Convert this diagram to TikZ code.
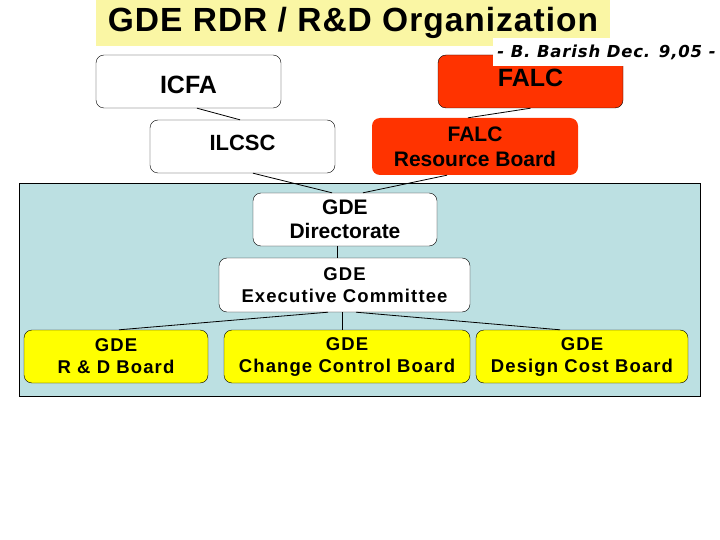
\documentclass[tikz,border=0pt]{standalone}
\usepackage{fontspec}
\setmainfont{Liberation Sans}
\newfontfamily\signfont{DejaVu Sans}

\definecolor{titleyellow}{RGB}{250,246,164}
\definecolor{falcred}{RGB}{255,51,0}
\definecolor{gdeblue}{RGB}{188,224,226}
\definecolor{boardyellow}{RGB}{255,255,0}

\tikzset{
  orgbox/.style={draw=black, fill=white, rounded corners=8pt, align=center,
    inner sep=0pt, minimum height=53pt},
  redbox/.style={orgbox, fill=falcred},
  boardbox/.style={orgbox, fill=boardyellow},
  lowfont/.style={font=\fontsize{18.5}{22}\selectfont\bfseries\addfontfeature{LetterSpace=6}},
  link/.style={draw=black, line width=0.8pt}
}

\begin{document}
\begin{tikzpicture}[x=1pt, y=-1pt]
        \useasboundingbox (0,0) rectangle (720,540);

        % GDE area
        \filldraw[fill=gdeblue, draw=black, line width=0.8pt] (19,183) rectangle (700,396);

        % title
        \node[fill=titleyellow, minimum width=514pt, minimum height=46pt, inner sep=0pt,
          font=\fontsize{33.5}{36}\selectfont\bfseries\addfontfeature{LetterSpace=3}]
          (title) at (353,23) {GDE RDR / R\&D Organization};

        % top level
        \node[orgbox, minimum width=185pt, text height=24pt, font=\fontsize{25}{28}\selectfont\bfseries]
          (icfa) at (188.5,81.5) {ICFA};
        \node[redbox, minimum width=185pt, text depth=7pt, font=\fontsize{25}{28}\selectfont\bfseries]
          (falc) at (530.5,81.5) {FALC};
        \node[fill=white, minimum width=227pt, minimum height=28pt, inner sep=0pt,
          font=\signfont\fontsize{16.5}{18}\selectfont\bfseries\itshape\addfontfeature{LetterSpace=5}]
          (sign) at (606.5,52) {- B. Barish Dec. 9,05 -};

        \node[orgbox, minimum width=185pt, text depth=8pt, font=\fontsize{22}{25}\selectfont\bfseries]
          (ilcsc) at (242.5,146.5) {ILCSC};
        \node[redbox, draw=none, minimum width=206pt, minimum height=57pt,
          font=\fontsize{21}{25}\selectfont\bfseries]
          (frb) at (475,146.5) {FALC\\Resource Board};

        % GDE
        \node[orgbox, minimum width=184pt, font=\fontsize{21}{24}\selectfont\bfseries]
          (dir) at (345,219.5) {GDE\\Directorate};
        \node[orgbox, minimum width=251pt, minimum height=54pt, lowfont]
          (exec) at (344.5,285) {GDE\\Executive Committee};

        % boards
        \node[boardbox, minimum width=184pt, lowfont] (rdb) at (116,356.5) {GDE\\R \& D Board};
        \node[boardbox, minimum width=246pt, lowfont] (ccb) at (347,356.5) {GDE\\Change Control Board};
        \node[boardbox, minimum width=212pt, lowfont] (dcb) at (582,356.5) {GDE\\Design Cost Board};

        % lines
        \draw[link] ([xshift=8.5pt]icfa.south) -- ([xshift=-2.5pt]ilcsc.north);
        \draw[link] (falc.south) -- ([xshift=-7pt]frb.north);
        \draw[link] ([xshift=10.5pt]ilcsc.south) -- ([xshift=-13pt]dir.north);
        \draw[link] ([xshift=-28pt]frb.south) -- ([xshift=18pt]dir.north);
        \draw[link] ([xshift=-8pt]dir.south) -- ([xshift=-7.5pt]exec.north);
        \draw[link] ([xshift=-16.5pt]exec.south) -- ([xshift=3pt]rdb.north);
        \draw[link] ([xshift=-2.5pt]exec.south) -- ([xshift=-5pt]ccb.north);
        \draw[link] ([xshift=11.5pt]exec.south) -- ([xshift=-22pt]dcb.north);
\end{tikzpicture}
\end{document}
